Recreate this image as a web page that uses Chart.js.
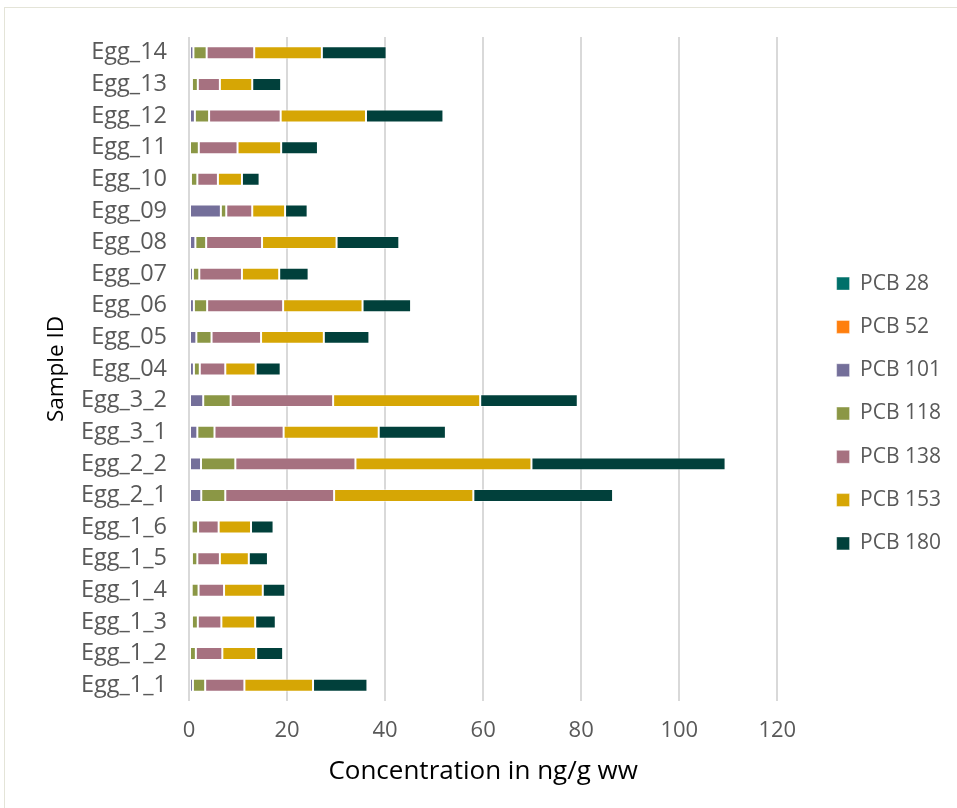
<!DOCTYPE html>
<html>
<head>
<meta charset="utf-8">
<script src="https://cdn.jsdelivr.net/npm/chart.js@4/dist/chart.umd.min.js"></script>
<style>
  html, body { margin: 0; padding: 0; background: #fff; }
  #frame { position: absolute; left: 4px; top: 7px; width: 1000px; height: 900px;
           border-top: 1px solid #e4e4d8; border-left: 1px solid #e4e4d8; }
  #wrap { position: absolute; left: 0; top: 0; width: 957px; height: 808px; }
</style>
</head>
<body>
<div id="frame"></div>
<div id="wrap"><canvas id="c" width="957" height="808"></canvas></div>
<script>
// Categories (Excel order: first at bottom)
const categories = ["Egg_1_1","Egg_1_2","Egg_1_3","Egg_1_4","Egg_1_5","Egg_1_6",
  "Egg_2_1","Egg_2_2","Egg_3_1","Egg_3_2","Egg_04","Egg_05","Egg_06","Egg_07",
  "Egg_08","Egg_09","Egg_10","Egg_11","Egg_12","Egg_13","Egg_14"];

const pcb28  = [0,0,0,0,0,0,0,0,0,0,0,0,0,0,0,0,0,0,0,0,0];
const pcb52  = [0,0,0,0,0,0,0,0,0,0,0,0,0,0,0,0,0,0,0,0,0];
const pcb101 = [0.8,0,0.6,0.55,0.6,0.55,2.5,2.45,1.7,2.9,1.0,1.5,1.0,0.8,1.3,6.5,0.4,0,1.2,0.6,0.9];
const pcb118 = [2.5,1.4,1.2,1.4,1.1,1.3,4.9,7.0,3.5,5.6,1.2,3.1,2.7,1.3,2.2,1.1,1.3,2.0,2.9,1.2,2.7];
const pcb138 = [8.0,5.4,4.8,5.2,4.6,4.2,22.2,24.5,14.1,20.9,5.2,10.1,15.5,8.7,11.4,5.3,4.2,7.9,14.6,4.5,9.7];
const pcb153 = [14.0,6.9,6.9,7.9,5.9,6.6,28.4,35.9,19.4,30.0,6.2,12.8,16.2,7.6,15.2,6.7,4.9,8.9,17.4,6.6,13.8];
const pcb180 = [11.1,5.5,4.2,4.6,3.9,4.6,28.5,39.6,13.7,19.9,5.1,9.3,9.9,6.0,12.8,4.6,3.6,7.5,15.8,5.9,13.2];

const seriesNames = ["PCB 28","PCB 52","PCB 101","PCB 118","PCB 138","PCB 153","PCB 180"];
const seriesData = [pcb28, pcb52, pcb101, pcb118, pcb138, pcb153, pcb180];
const seriesColors = ["#00706a","#ff7f0e","#746f9a","#8b9745","#a67180","#d6a605","#01403b"];

const xTicks = [0, 20, 40, 60, 80, 100, 120];

const FONT = "'Open Sans', 'DejaVu Sans', sans-serif";

const datasets = seriesNames.map((n, i) => ({
  label: n,
  data: seriesData[i],
  backgroundColor: seriesColors[i],
  borderColor: 'rgba(255,255,255,0.45)',
  borderWidth: 1,
  borderSkipped: false,
  barPercentage: 0.41,
  categoryPercentage: 1.0
}));

const PAD_BOTTOM = 18;

new Chart(document.getElementById('c'), {
  type: 'bar',
  data: { labels: categories, datasets },
  options: {
    indexAxis: 'y',
    responsive: false,
    animation: false,
    layout: { padding: { left: 30, top: 37, right: 6, bottom: PAD_BOTTOM } },
    plugins: {
      legend: {
        position: 'right',
        labels: {
          font: { family: FONT, size: 21 },
          color: '#595959',
          boxWidth: 13,
          boxHeight: 13,
          padding: 22.3
        }
      },
      tooltip: { enabled: false }
    },
    scales: {
      x: {
        type: 'linear',
        stacked: true,
        min: 0, max: 120,
        afterBuildTicks: s => { s.ticks = xTicks.map(v => ({ value: v })); },
        afterFit: s => { s.height = 808 - PAD_BOTTOM - 701; },
        grid: { color: '#d9d9d9', lineWidth: 2, drawTicks: false },
        border: { display: false },
        ticks: { font: { family: FONT, size: 22 }, color: '#595959', padding: 17 },
        title: {
          display: true, text: 'Concentration in ng/g ww',
          font: { family: FONT, size: 26 }, color: '#000',
          padding: { top: 0, bottom: 2.4 }
        }
      },
      y: {
        type: 'category',
        stacked: true,
        reverse: true,
        afterFit: s => { s.width = 189 - 30; },
        grid: { display: false, drawTicks: false },
        border: { display: false },
        ticks: { font: { family: FONT, size: 23.5 }, color: '#595959', padding: 22, autoSkip: false },
        title: {
          display: true, text: 'Sample ID',
          font: { family: FONT, size: 22.5 }, color: '#000',
          padding: { top: 13.5, bottom: 0 }
        }
      },
      yDummy: {
        type: 'linear',
        position: 'right',
        display: true,
        afterFit: s => { s.width = 37; },
        grid: { display: false, drawTicks: false },
        border: { display: false },
        ticks: { display: false }
      }
    }
  }
});
</script>
</body>
</html>
